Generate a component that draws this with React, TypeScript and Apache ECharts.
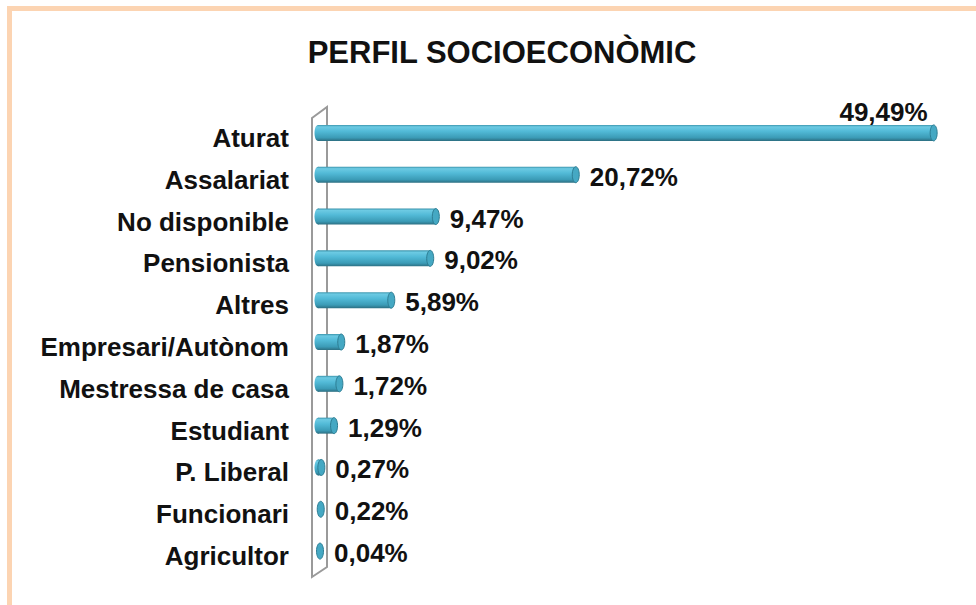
import React, { useEffect, useRef } from "react";
import * as echarts from "echarts";

const categories = [
  "Aturat",
  "Assalariat",
  "No disponible",
  "Pensionista",
  "Altres",
  "Empresari/Autònom",
  "Mestressa de casa",
  "Estudiant",
  "P. Liberal",
  "Funcionari",
  "Agricultor",
];
const values = [49.49, 20.72, 9.47, 9.02, 5.89, 1.87, 1.72, 1.29, 0.27, 0.22, 0.04];
const valueLabels = ["49,49%", "20,72%", "9,47%", "9,02%", "5,89%", "1,87%", "1,72%", "1,29%", "0,27%", "0,22%", "0,04%"];
const title = "PERFIL SOCIOECONÒMIC";

const GRID_LEFT = 318;
const GRID_TOP = 117;
const GRID_HEIGHT = 460;
const GRID_RIGHT = 36;
const BAR_SHIFT = -5;
const FONT = "'Liberation Sans', Arial, sans-serif";

export default function App() {
  const ref = useRef<HTMLDivElement>(null);
  useEffect(() => {
    if (!ref.current) return;
    const chart = echarts.init(ref.current, null, { renderer: "svg" });
    const barH = 16;
    const grad = () =>
      new echarts.graphic.LinearGradient(0, 0, 0, 1, [
        { offset: 0, color: "#3a93ab" },
        { offset: 0.12, color: "#6ccae3" },
        { offset: 0.4, color: "#52bad7" },
        { offset: 0.8, color: "#3b9bb6" },
        { offset: 1, color: "#2c6f82" },
      ]);
    const wt = GRID_TOP + BAR_SHIFT;
    const wb = GRID_TOP + GRID_HEIGHT + BAR_SHIFT;
    chart.setOption({
      animation: false,
      backgroundColor: "#ffffff",
      title: {
        text: title,
        left: 497,
        top: 32,
        textAlign: "center",
        textStyle: { fontFamily: FONT, fontWeight: "bold", fontSize: 31, color: "#111" },
      },
      grid: { left: GRID_LEFT, top: GRID_TOP, height: GRID_HEIGHT, right: GRID_RIGHT },
      xAxis: {
        type: "value",
        min: 0,
        max: 50,
        show: false,
      },
      yAxis: {
        type: "category",
        data: categories,
        inverse: true,
        axisLine: { show: false },
        axisTick: { show: false },
        axisLabel: {
          margin: 29,
          fontFamily: FONT,
          fontWeight: "bold",
          fontSize: 26,
          color: "#111",
        },
      },
      graphic: [
        {
          type: "rect",
          z: 0,
          shape: { x: 9.5, y: 8.5, width: 3000, height: 3000 },
          style: { fill: "none", stroke: "#fcd4b2", lineWidth: 5 },
        },
        {
          type: "polygon",
          z: 0,
          shape: {
            points: [
              [GRID_LEFT - 6, wt + 6],
              [GRID_LEFT + 9, wt - 5],
              [GRID_LEFT + 9, wb - 5],
              [GRID_LEFT - 6, wb + 5],
            ],
          },
          style: { fill: "#ffffff", stroke: "#9a9a9a", lineWidth: 2 },
        },
      ],
      series: [
        {
          type: "custom",
          z: 5,
          data: values.map((v, i) => [v, i]),
          encode: { x: 0, y: 1 },
          renderItem: (params: any, api: any) => {
            const v = api.value(0);
            const idx = api.value(1);
            const s = api.coord([0, idx]);
            const e = api.coord([v, idx]);
            const cy = e[1] + BAR_SHIFT;
            const w = Math.max(e[0] - s[0], 0);
            const first = params.dataIndex === 0;
            const ex = Math.max(e[0], s[0] + 2);
            const children: any[] = [];
            if (w > 3) {
              children.push({
                type: "rect",
                shape: { x: s[0], y: cy - barH / 2, width: w, height: barH },
                style: { fill: grad() },
              });
              children.push({
                type: "ellipse",
                shape: { cx: s[0], cy, rx: 3.5, ry: barH / 2 },
                style: { fill: grad() },
              });
            }
            children.push({
              type: "ellipse",
              shape: { cx: ex, cy, rx: 3.5, ry: barH / 2 },
              style: { fill: "#45a8c3", stroke: "#2d7d93", lineWidth: 1 },
            });
            children.push({
              type: "text",
              style: {
                text: valueLabels[params.dataIndex],
                x: first ? e[0] - 6 : ex + 14,
                y: first ? cy - 21 : cy + 2,
                align: first ? "right" : "left",
                verticalAlign: "middle",
                fill: "#111",
                font: `bold 26px ${FONT}`,
              },
            });
            return { type: "group", children };
          },
        },
      ],
    });
    return () => chart.dispose();
  }, []);
  return (
    <div
      ref={ref}
      style={{ position: "fixed", left: 0, top: 0, width: 976, height: 605, background: "#fff" }}
    />
  );
}
